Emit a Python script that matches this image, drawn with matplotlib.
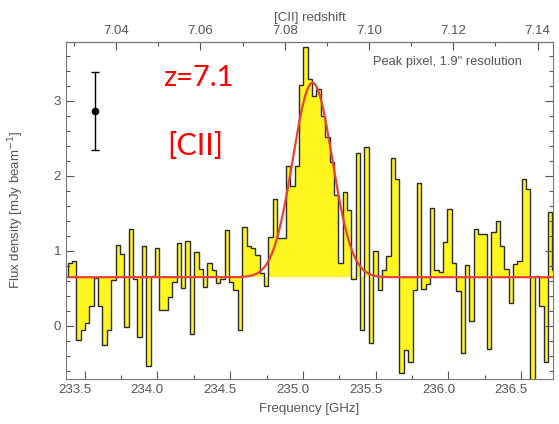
import numpy as np
import matplotlib.pyplot as plt
import matplotlib.transforms as mtransforms
from matplotlib.ticker import MultipleLocator, FixedLocator

# ================================================
# SPECTRUM (peak pixel)
# ================================================
nu0   = 233.383          # first channel edge [GHz]
dnu   = 0.0300           # channel width [GHz]
flux  = [0.84, 0.87, -0.18, -0.05, 0.04, 0.26, 0.64, 0.26, -0.25, -0.05,
         0.61, 1.08, 0.96, -0.01, 1.29, 0.62, -0.15, 1.07, -0.53, 0.67,
         1.04, 0.21, 0.21, 0.39, 0.58, 1.10, 0.50, 1.13, -0.10, 0.98,
         0.76, 0.52, 0.84, 0.75, 0.57, 0.62, 1.28,
         0.59, 0.48, -0.05, 1.32, 1.07, 1.04, 0.95, 0.70, 0.53, 1.19,
         1.69, 1.17, 1.17, 2.13, 1.86, 2.13, 3.21, 3.72, 3.29, 3.07,
         3.16, 2.80, 2.52, 2.19, 1.75, 0.84, 1.79, 1.55, 0.62, 2.31,
         -0.05, 2.38, -0.23, 1.00, 0.48, 0.74, 0.93,
         2.24, 1.96, -0.62, -0.32, -0.48, 0.48, 1.91, 0.49, 0.56, 1.57,
         0.74, 0.72, 1.12, 1.56, 0.84, 0.46, -0.36, 0.81, 0.07, 1.29,
         1.22, 1.22, -0.30, 1.25, 1.40, 1.07, 0.76, 0.31, 0.83, 0.87,
         1.96, 1.83, -0.75, 0.66, 0.27, -0.48, 1.52, 0.75]
edges = nu0 + dnu * np.arange(len(flux) + 1)

# Gaussian fit
cont   = 0.65
amp    = 2.59
nu_c   = 235.066
sig    = 0.136

# representative error bar
err_nu, err_f, err_df = 233.569, 2.86, 0.52

# redshift axis (linear, as drawn in the original)
z_ref, dz_dnu = 7.0325, 0.03454
z_major = [7.04, 7.06, 7.08, 7.10, 7.12, 7.14]
z_minor = [7.03, 7.05, 7.07, 7.09, 7.11, 7.13]

grey = '#555555'
plt.rcParams['font.family'] = ['Liberation Sans', 'DejaVu Sans']

fig = plt.figure(figsize=(5.59, 4.24), dpi=100)
ax = fig.add_axes([0.118, 0.106, 0.871, 0.796])

ax.stairs(flux, edges, baseline=cont, fill=True, color='#fff51f', lw=0)
ax.stairs(flux, edges, baseline=cont, color='#2b2b2b', lw=1.0)

nu = np.linspace(233.3, 236.8, 800)
ax.plot(nu, cont + amp * np.exp(-0.5 * ((nu - nu_c) / sig) ** 2),
        c='#e8413a', lw=1.6)

ax.errorbar(err_nu, err_f, yerr=err_df, fmt='o', c='black', ms=4.5,
            capsize=3, elinewidth=1, capthick=1)

ax.set_xlim(233.372, 236.717)
ax.set_ylim(-0.707, 3.79)
ax.xaxis.set_major_locator(MultipleLocator(0.5))
ax.xaxis.set_minor_locator(MultipleLocator(0.25))
ax.yaxis.set_major_locator(MultipleLocator(1))
ax.yaxis.set_minor_locator(MultipleLocator(0.2))
ax.xaxis.set_major_formatter(lambda v, p: f'{v:.1f}')
ax.tick_params(which='both', direction='in', top=False, right=True,
               colors=grey, labelsize=9.5, width=0.8)
ax.tick_params(which='major', length=6)
ax.tick_params(which='minor', length=3)
for s in ax.spines.values():
    s.set_color('#777777')

ax.set_xlabel('Frequency [GHz]', color=grey, fontsize=9.5, labelpad=5)
ax.set_ylabel(r'Flux density [mJy beam$^{-1}$]', color=grey, fontsize=9.5,
              labelpad=20)

top = ax.secondary_xaxis('top', functions=(lambda v: z_ref + dz_dnu * (v - 233.5),
                                           lambda z: 233.5 + (z - z_ref) / dz_dnu))
top.xaxis.set_major_locator(FixedLocator(z_major))
top.xaxis.set_minor_locator(FixedLocator(z_minor))
top.xaxis.set_major_formatter(lambda v, p: f'{v:.2f}')
top.tick_params(which='both', direction='in', colors=grey, labelsize=9.5, width=0.8)
top.tick_params(which='major', length=6)
top.tick_params(which='minor', length=3)
top.set_xlabel('[CII] redshift', color=grey, fontsize=9.5, labelpad=3)
top.spines['top'].set_color('#777777')

ax.text(0.936, 0.94, 'Peak pixel, 1.9" resolution', transform=ax.transAxes,
        ha='right', va='center', color=grey, fontsize=9.3)
fig.text(198 / 559, 1 - 78 / 424, 'z=7.1', ha='center', va='center',
         color='#ff0000', fontsize=21, family=['Lato', 'DejaVu Sans'])
fig.text(195 / 559, 1 - 146 / 424, '[CII]', ha='center', va='center',
         color='#ff0000', fontsize=22, family=['Lato', 'DejaVu Sans'])

# shift bottom tick labels slightly left, as in the original
fig.canvas.draw()
shift = mtransforms.ScaledTranslation(-0.10, 0, fig.dpi_scale_trans)
for lbl in ax.get_xticklabels():
    lbl.set_transform(lbl.get_transform() + shift)

plt.savefig('out.png', dpi=100)
plt.close()
